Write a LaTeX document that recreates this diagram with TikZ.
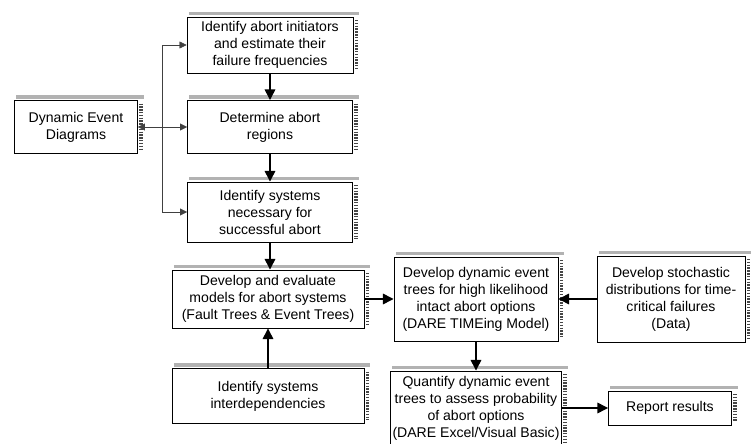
\documentclass[tikz,border=0pt]{standalone}
\usepackage{fontspec}
\setmainfont{Liberation Sans}
\usepackage{tikz}
\usetikzlibrary{positioning}
\usetikzlibrary{shapes,arrows,calc,arrows.meta}

\begin{document}
\begin{tikzpicture}[>={Triangle[length=9pt,width=9pt]}, node distance=2cm, on grid,
  every node/.style={font=\fontsize{12}{14.5}\selectfont},
  procbox/.style={draw, thick, fill=white, align=center, inner sep=2pt},
  flow/.style={->, very thick},
  feed/.style={thin, black!75},
  shadowline/.style={gray!55!black, line width=3pt}]
  \useasboundingbox (-8.1,1.35) rectangle (14.58,-11.97);

  \node[procbox, minimum width=4.98cm, minimum height=1.68cm] (init) {Identify abort initiators\\and estimate their\\failure frequencies};
  \node[procbox, minimum width=4.95cm, minimum height=1.59cm] (regions) [below=2.46cm of init] {Determine abort\\regions};
  \node[procbox, minimum width=4.95cm, minimum height=1.80cm] (necessary) [below=2.55cm of regions] {Identify systems\\necessary for\\successful abort};
  \node[procbox, minimum width=3.69cm, minimum height=1.59cm] (ded) [left=5.82cm of regions] {Dynamic Event\\Diagrams};
  \node[procbox, minimum width=5.76cm, minimum height=1.74cm] (models) [below=2.61cm of necessary, xshift=-0.06cm] {Develop and evaluate\\models for abort systems\\(Fault Trees \& Event Trees)};
  \node[procbox, minimum width=5.76cm, minimum height=1.65cm] (interdep) [below=2.91cm of models] {Identify systems\\interdependencies};
  \node[procbox, minimum width=4.92cm, minimum height=2.52cm] (dyntrees) [right=6.24cm of models] {Develop dynamic event\\trees for high likelihood\\intact abort options\\(DARE TIMEing Model)};
  \node[procbox, minimum width=4.44cm, minimum height=2.58cm] (stoch) [right=5.85cm of dyntrees] {Develop stochastic\\distributions for time-\\critical failures\\(Data)};
  \node[procbox, minimum width=4.92cm, minimum height=2.22cm] (quantify) [below=3.27cm of dyntrees] {Quantify dynamic event\\trees to assess probability\\of abort options\\(DARE Excel/Visual Basic)};
  \node[procbox, minimum width=3.69cm, minimum height=1.02cm] (report) [right=5.82cm of quantify] {Report results};

  % striped shadow along top and right edges
  \foreach \n in {init,regions,necessary,ded,models,interdep,dyntrees,stoch,quantify,report} {
    \draw[shadowline, gray!60] ([xshift=2pt,yshift=2.5pt]\n.north west) -- ([xshift=5pt,yshift=2.5pt]\n.north east);
    \draw[shadowline, dash pattern=on 1.2pt off 1.2pt] ([xshift=2.5pt,yshift=-3pt]\n.north east) -- ([xshift=2.5pt,yshift=3pt]\n.south east);
  }

  \coordinate (trunk) at ($(ded.east)!0.5!(regions.west)$);
  \draw[feed, <->, >={Triangle[length=6pt,width=6pt]}] (ded) -- (regions);
  \draw[feed, ->, >={Triangle[length=6pt,width=6pt]}] (trunk) |- (init.west);
  \draw[feed, ->, >={Triangle[length=6pt,width=6pt]}] (trunk) |- (necessary.west);

  \draw[flow] (init) -- (regions);
  \draw[flow] (regions) -- (necessary);
  \draw[flow] (necessary.south) -- (necessary.south |- models.north);
  \draw[flow] (interdep.north) -- (interdep.north |- models.south);
  \draw[flow] (models) -- (dyntrees);
  \draw[flow] (stoch) -- (dyntrees);
  \draw[flow] (dyntrees) -- (quantify);
  \draw[flow] (quantify) -- (report);
\end{tikzpicture}
\end{document}
